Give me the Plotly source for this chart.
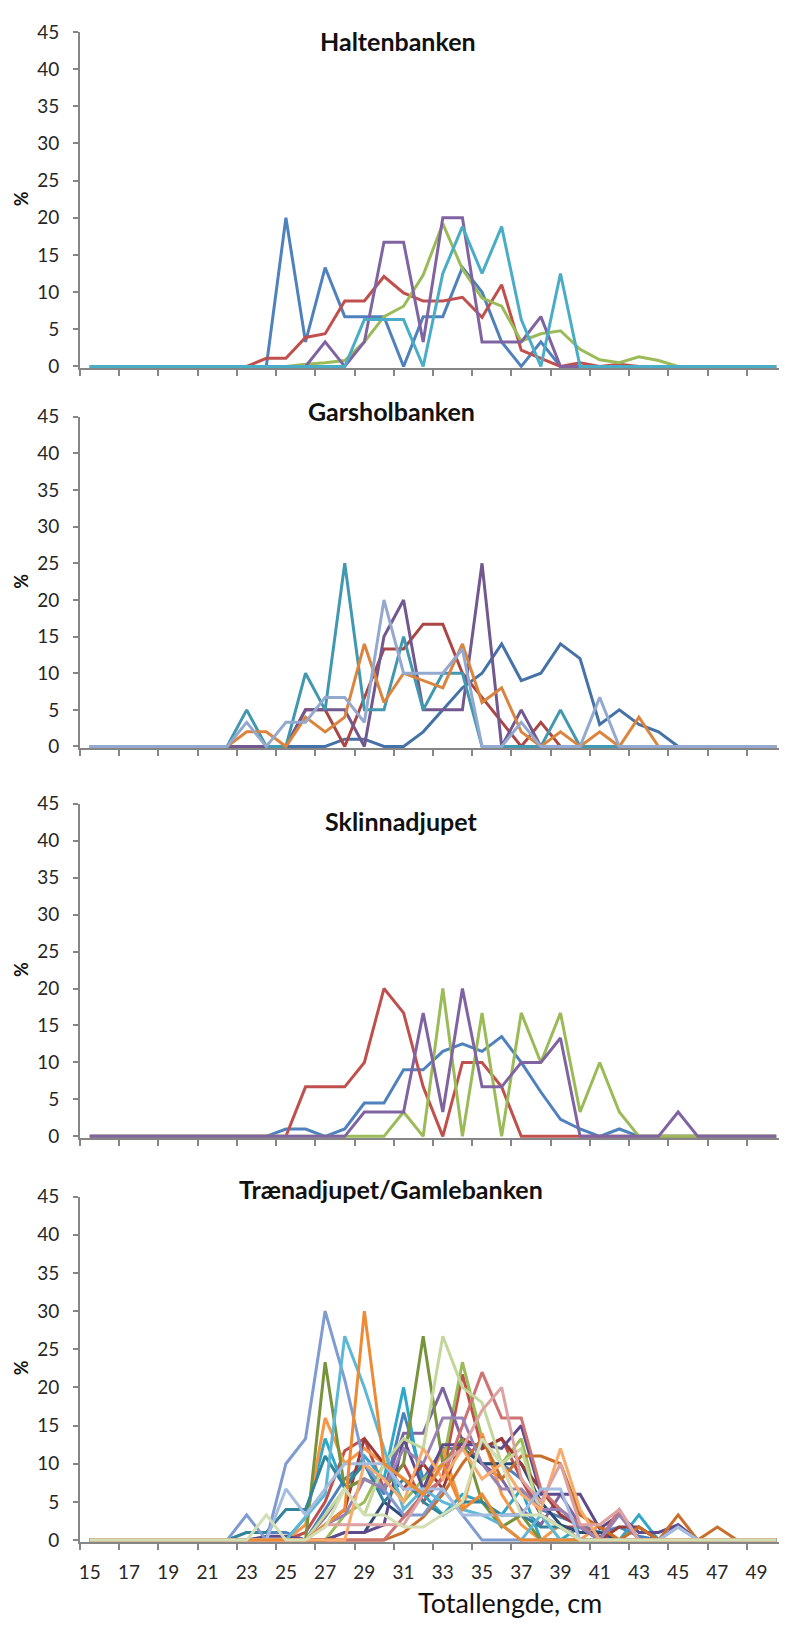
import plotly.graph_objects as go

# ---------------- data ----------------
lengths = list(range(15, 51))                      # Totallengde, cm (categories)
x_tick_values = list(range(15, 50, 2))
x_tick_labels = [str(v) for v in x_tick_values]
y_tick_values = list(range(0, 50, 5))

panel_titles = ["Haltenbanken", "Garsholbanken", "Sklinnadjupet", "Trænadjupet/Gamlebanken"]

# Panel 1: Haltenbanken              15 16 17 18 19 20 21 | 22 23 24 25 26 27 28 29 30 31 | 32 33 34 35 36 37 38 39 40 41 | 42 43 44 45 46 47 48 49 50
halten_blue   = [0, 0, 0, 0, 0, 0, 0,  0, 0, 0, 20, 3.3, 13.3, 6.7, 6.7, 6.7, 0,  6.7, 6.7, 13.3, 10, 3.3, 0, 3.3, 0, 0, 0,  0, 0, 0, 0, 0, 0, 0, 0, 0]
halten_red    = [0, 0, 0, 0, 0, 0, 0,  0, 0, 1.1, 1.1, 3.9, 4.4, 8.8, 8.8, 12.1, 9.9,  8.8, 8.8, 9.3, 6.6, 11, 2.2, 1.1, 0, 0.5, 0,  0.3, 0, 0, 0, 0, 0, 0, 0, 0]
halten_green  = [0, 0, 0, 0, 0, 0, 0,  0, 0, 0, 0, 0.3, 0.5, 0.8, 3.3, 6.7, 8.1,  12.3, 19.2, 13.1, 9.2, 8.1, 3.4, 4.4, 4.8, 2.3, 0.9,  0.5, 1.3, 0.8, 0, 0, 0, 0, 0, 0]
halten_purple = [0, 0, 0, 0, 0, 0, 0,  0, 0, 0, 0, 0, 3.3, 0, 3.3, 16.7, 16.7,  3.3, 20, 20, 3.3, 3.3, 3.3, 6.7, 0, 0, 0,  0, 0, 0, 0, 0, 0, 0, 0, 0]
halten_cyan   = [0, 0, 0, 0, 0, 0, 0,  0, 0, 0, 0, 0, 0, 0, 6.3, 6.3, 6.3,  0, 12.5, 18.8, 12.5, 18.8, 6.3, 0, 12.5, 0, 0,  0, 0, 0, 0, 0, 0, 0, 0, 0]

# Panel 2: Garsholbanken
garshol_blue      = [0, 0, 0, 0, 0, 0, 0,  0, 0, 0, 0, 0, 0, 1, 1, 0, 0,  2, 5, 8, 10, 14, 9, 10, 14, 12, 3,  5, 3, 2, 0, 0, 0, 0, 0, 0]
garshol_red       = [0, 0, 0, 0, 0, 0, 0,  0, 0, 0, 0, 5, 5, 0, 6.7, 13.3, 13.3,  16.7, 16.7, 10, 6.7, 3.3, 0, 3.3, 0, 0, 0,  0, 0, 0, 0, 0, 0, 0, 0, 0]
garshol_purple    = [0, 0, 0, 0, 0, 0, 0,  0, 0, 0, 0, 5, 5, 5, 0, 15, 20,  5, 5, 5, 25, 0, 5, 0, 0, 0, 0,  0, 0, 0, 0, 0, 0, 0, 0, 0]
garshol_teal      = [0, 0, 0, 0, 0, 0, 0,  0, 5, 0, 0, 10, 5, 25, 5, 5, 15,  5, 10, 10, 0, 0, 0, 0, 5, 0, 0,  0, 0, 0, 0, 0, 0, 0, 0, 0]
garshol_orange    = [0, 0, 0, 0, 0, 0, 0,  0, 2, 2, 0, 4, 2, 4, 14, 6, 10,  9, 8, 14, 6, 8, 2, 0, 2, 0, 2,  0, 4, 0, 0, 0, 0, 0, 0, 0]
garshol_lightblue = [0, 0, 0, 0, 0, 0, 0,  0, 3.3, 0, 3.3, 3.3, 6.7, 6.7, 3.3, 20, 10,  10, 10, 13.3, 0, 0, 3.3, 0, 0, 0, 6.7,  0, 0, 0, 0, 0, 0, 0, 0, 0]

# Panel 3: Sklinnadjupet
sklinna_blue   = [0, 0, 0, 0, 0, 0, 0,  0, 0, 0, 1, 1, 0, 1, 4.5, 4.5, 9,  9, 11.5, 12.5, 11.5, 13.5, 10, 6, 2.3, 1, 0,  1, 0, 0, 0, 0, 0, 0, 0, 0]
sklinna_red    = [0, 0, 0, 0, 0, 0, 0,  0, 0, 0, 0, 6.7, 6.7, 6.7, 10, 20, 16.7,  6.7, 0, 10, 10, 6.7, 0, 0, 0, 0, 0,  0, 0, 0, 0, 0, 0, 0, 0, 0]
sklinna_green  = [0, 0, 0, 0, 0, 0, 0,  0, 0, 0, 0, 0, 0, 0, 0, 0, 3.3,  0, 20, 0, 16.7, 0, 16.7, 10, 16.7, 3.3, 10,  3.3, 0, 0, 0, 0, 0, 0, 0, 0]
sklinna_purple = [0, 0, 0, 0, 0, 0, 0,  0, 0, 0, 0, 0, 0, 0, 3.3, 3.3, 3.3,  16.7, 3.3, 20, 6.7, 6.7, 10, 10, 13.3, 0, 0,  0, 0, 0, 3.3, 0, 0, 0, 0, 0]

# Panel 4: Trænadjupet/Gamlebanken
traena_01 = [0, 0, 0, 0, 0, 0, 0,  0, 1, 1, 1, 0, 4, 8, 10, 6, 16.7,  8, 12, 12, 10, 10, 8, 4, 3, 2, 1,  1.7, 0.5, 0, 0, 0, 0, 0, 0, 0]
traena_02 = [0, 0, 0, 0, 0, 0, 0,  0, 0, 0, 0, 1, 5, 11.7, 13.3, 6.7, 10,  5, 8.3, 21.7, 12, 13.3, 8, 3.3, 1.7, 1.7, 0,  0, 1.7, 0, 0, 0, 0, 0, 0, 0]
traena_03 = [0, 0, 0, 0, 0, 0, 0,  0, 0, 0, 0, 0, 0, 3.3, 5, 10, 5,  8, 10, 23.3, 13.3, 10, 13.3, 3.3, 1.7, 0, 0,  0, 0, 0, 0, 0, 0, 0, 0, 0]
traena_04 = [0, 0, 0, 0, 0, 0, 0,  0, 0, 0, 0, 0, 3, 6.7, 8, 6.7, 14,  14, 20, 13, 10, 8, 4, 2, 6, 2, 0.5,  0, 0, 0, 2, 0, 0, 0, 0, 0]
traena_05 = [0, 0, 0, 0, 0, 0, 0,  0, 0, 0, 0, 3, 13.3, 6.7, 11, 8, 20,  6, 3.3, 6, 5, 3.3, 6.7, 0, 0, 1.7, 0,  0, 3.3, 0, 0, 0, 0, 0, 0, 0]
traena_06 = [0, 0, 0, 0, 0, 0, 0,  0, 0, 0, 0, 2, 16, 10, 12, 10, 8,  6, 12, 4, 14, 6, 2, 0, 2, 0, 2,  0, 0, 0, 0, 0, 0, 0, 0, 0]
traena_07 = [0, 0, 0, 0, 0, 0, 0,  0, 0, 0, 0, 0, 0, 1, 1, 5, 3,  6, 10, 12, 10, 10, 10, 5, 2, 1, 1,  0, 0, 0, 0, 0, 0, 0, 0, 0]
traena_08 = [0, 0, 0, 0, 0, 0, 0,  0, 0, 0, 0, 0, 2, 4, 13.3, 10, 6.7,  10, 6.7, 13.3, 12, 13.3, 10, 6.7, 3.3, 1.7, 0,  1.7, 1.7, 0, 0, 0, 0, 0, 0, 0]
traena_09 = [0, 0, 0, 0, 0, 0, 0,  0, 0, 0, 0, 0, 23.3, 6.7, 8, 6.7, 10,  26.7, 10, 13.3, 5, 1.7, 3.3, 0, 0, 0, 0,  0, 0, 0, 0, 0, 0, 0, 0, 0]
traena_10 = [0, 0, 0, 0, 0, 0, 0,  0, 0, 0.5, 0.5, 0, 0, 1, 1, 2, 13.3,  6.7, 12.5, 12.5, 12.5, 12, 15, 6, 6, 6, 1.5,  3.3, 1, 1, 2, 0, 0, 0, 0, 0]
traena_11 = [0, 0, 0, 0, 0, 0, 0,  0, 1, 1, 4, 4, 11, 7, 10, 5, 8,  5, 3.3, 5, 5, 3.3, 3.3, 1.7, 1.7, 0, 0,  0, 0, 0, 0, 0, 0, 0, 0, 0]
traena_12 = [0, 0, 0, 0, 0, 0, 0,  0, 0, 0, 0, 0, 0, 0, 0, 0, 1,  3, 6, 10, 13.3, 8, 11, 11, 10, 3.3, 1.7,  0, 1.7, 0, 3.3, 0, 1.7, 0, 0, 0]
traena_13 = [0, 0, 0, 0, 0, 0, 0,  0, 3.3, 0, 10, 13.3, 30, 21, 10, 6.7, 3.3,  3.3, 6.7, 3.3, 0, 0, 0, 0, 0, 0, 0,  0, 0, 0, 0, 0, 0, 0, 0, 0]
traena_14 = [0, 0, 0, 0, 0, 0, 0,  0, 0, 0, 0, 0, 0, 0, 0, 0, 3,  6, 8, 15, 22, 16, 16, 6.7, 4, 2, 0,  4, 0, 0, 0, 0, 0, 0, 0, 0]
traena_15 = [0, 0, 0, 0, 0, 0, 0,  0, 0, 0, 0, 0, 3.3, 6.7, 3.3, 10, 13.3,  12, 26.7, 20, 18, 10, 12, 3.3, 0, 0, 0,  0, 0, 0, 0, 0, 0, 0, 0, 0]
traena_16 = [0, 0, 0, 0, 0, 0, 0,  0, 0, 0, 0, 0, 2, 3.3, 8, 6.7, 12,  10, 16, 16, 10, 6.7, 6.7, 4, 4, 1.7, 0,  3.3, 0, 0, 1.7, 0, 0, 0, 0, 0]
traena_17 = [0, 0, 0, 0, 0, 0, 0,  0, 0, 0, 0, 3, 6, 26.7, 20, 12, 4,  6.7, 5, 4, 3.3, 2, 0, 3.3, 0, 0, 0,  0, 0, 0, 0, 0, 0, 0, 0, 0]
traena_18 = [0, 0, 0, 0, 0, 0, 0,  0, 0, 0, 0, 0, 0, 0, 10, 8, 5,  12, 8, 12, 8, 10, 6, 4, 12, 4, 0,  0, 0, 0, 0, 0, 0, 0, 0, 0]
traena_19 = [0, 0, 0, 0, 0, 0, 0,  0, 0, 0, 0, 0, 2, 2, 2, 2, 2,  6, 10, 12, 17, 20, 8, 5, 10, 2, 2,  4, 0, 0, 0, 0, 0, 0, 0, 0]
traena_20 = [0, 0, 0, 0, 0, 0, 0,  0, 0, 0, 6.7, 3.3, 6.7, 10, 10, 10, 6.7,  6.7, 6.7, 3.3, 3.3, 3.3, 3.3, 6.7, 6.7, 0, 0,  0, 0, 0, 1.7, 0, 0, 0, 0, 0]
traena_21 = [0, 0, 0, 0, 0, 0, 0,  0, 0, 0, 0, 0, 2, 4, 30, 10, 8,  6, 10, 4, 6, 2, 0, 0, 0, 0, 0,  0, 0, 0, 0, 0, 0, 0, 0, 0]
traena_22 = [0, 0, 0, 0, 0, 0, 0,  0, 0, 3.3, 0, 0, 1.7, 6.7, 3.3, 3.3, 1.7,  1.7, 3.3, 5, 13.3, 10, 3.3, 3.3, 1.7, 0, 0,  0, 0, 0, 0, 0, 0, 0, 0, 0]

panels = [
    [(halten_blue, "#4F81BD"), (halten_red, "#C0504D"), (halten_green, "#9BBB59"),
     (halten_purple, "#8064A2"), (halten_cyan, "#4BACC6")],
    [(garshol_blue, "#4572A7"), (garshol_red, "#AA4643"), (garshol_purple, "#71588F"),
     (garshol_teal, "#4198AF"), (garshol_orange, "#DB843D"), (garshol_lightblue, "#93A9CF")],
    [(sklinna_blue, "#4F81BD"), (sklinna_red, "#C0504D"), (sklinna_green, "#9BBB59"),
     (sklinna_purple, "#8064A2")],
    [(traena_01, "#4F81BD"), (traena_02, "#C0504D"), (traena_03, "#9BBB59"), (traena_04, "#8064A2"),
     (traena_05, "#2FA7C8"), (traena_06, "#F79646"), (traena_07, "#2C4D75"), (traena_08, "#9A3B38"),
     (traena_09, "#77933C"), (traena_10, "#5F4B8B"), (traena_11, "#31849B"), (traena_12, "#C8702A"),
     (traena_13, "#7F9BD0"), (traena_14, "#CD7371"), (traena_15, "#C3D69B"), (traena_16, "#9983B5"),
     (traena_17, "#5DB8D6"), (traena_18, "#F9AB6B"), (traena_19, "#DDA3A2"), (traena_20, "#A3BCE0"),
     (traena_21, "#EE8A34"), (traena_22, "#D2DEB4")],
]

# ---------------- layout geometry (page pixels) ----------------
PAGE_W, PAGE_H = 787, 1631
OFF = 8                      # default body margin of the html page
W, H = PAGE_W - OFF, PAGE_H - OFF
AX_LEFT, AX_RIGHT = 80, 786   # page x of the plot area
ML = AX_LEFT - OFF
MR = PAGE_W - AX_RIGHT
PW = W - ML - MR
panel_px = [(20, 359), (410, 744), (802, 1139), (1200, 1548)]   # page y of 45 and of 0
title_px = [(398, 29), (391, 404), (401, 819), (391, 1192)]
YMIN = -0.25


def py(page_y):
    return 1 - (page_y - OFF) / H


def px(page_x):
    return (page_x - AX_LEFT) / PW


FONT = "Lato, 'Open Sans', sans-serif"
AXIS_COLOR = "#868686"
TEXT_COLOR = "#262626"

fig = go.Figure()
layout = dict(
    width=W, height=H,
    margin=dict(l=ML, r=MR, t=0, b=0, pad=0),
    paper_bgcolor="white", plot_bgcolor="white",
    showlegend=False,
    font=dict(family=FONT, color=TEXT_COLOR),
)

minor_ticks = [v - 0.5 for v in range(15, 52, 2)]
annotations = []

for i, series in enumerate(panels):
    n = i + 1
    xa = "x" if n == 1 else f"x{n}"
    ya = "y" if n == 1 else f"y{n}"
    for vals, col in series:
        fig.add_trace(go.Scatter(
            x=lengths, y=vals, mode="lines",
            line=dict(color=col, width=3),
            xaxis=xa, yaxis=ya, hoverinfo="skip", showlegend=False,
        ))
    top, y0 = panel_px[i]
    ppu = (y0 - top) / 45.0
    bottom = y0 + (-YMIN) * ppu
    dom = [py(bottom), py(top)]
    layout["xaxis" if n == 1 else f"xaxis{n}"] = dict(
        domain=[0, 1], range=[14.5, 50.5], anchor=ya,
        tickmode="array", tickvals=x_tick_values, ticktext=x_tick_labels,
        showticklabels=(n == 4), ticks="",
        tickfont=dict(family=FONT, size=19, color=TEXT_COLOR),
        ticklabelstandoff=12,
        showline=True, linecolor=AXIS_COLOR, linewidth=2,
        showgrid=False, zeroline=False, layer="below traces",
        minor=dict(tickmode="array", tickvals=minor_ticks, ticks="outside",
                   ticklen=6, tickwidth=1.5, tickcolor=AXIS_COLOR, showgrid=False),
        fixedrange=True,
    )
    layout["yaxis" if n == 1 else f"yaxis{n}"] = dict(
        domain=dom, range=[YMIN, 45], anchor=xa,
        tickmode="array", tickvals=y_tick_values,
        ticks="outside", ticklen=5, tickwidth=1.5, tickcolor=AXIS_COLOR,
        tickfont=dict(family=FONT, size=19, color=TEXT_COLOR),
        ticklabelstandoff=10,
        showline=True, linecolor=AXIS_COLOR, linewidth=2,
        showgrid=False, zeroline=False, layer="below traces",
        fixedrange=True,
    )
    tx, ty = title_px[i]
    annotations.append(dict(
        text=f"<b>{panel_titles[i]}</b>", xref="paper", yref="paper",
        x=px(tx), y=py(ty),
        xanchor="center", yanchor="middle", showarrow=False,
        font=dict(family=FONT, size=25, color="#111111"),
    ))
    annotations.append(dict(
        text="<b>%</b>", xref="paper", yref="paper",
        x=px(21), y=py((top + y0) / 2),
        xanchor="center", yanchor="middle", showarrow=False, textangle=-90,
        font=dict(family=FONT, size=18, color="#111111"),
    ))

annotations.append(dict(
    text="Totallengde, cm", xref="paper", yref="paper",
    x=px(510), y=py(1611),
    xanchor="center", yanchor="middle", showarrow=False,
    font=dict(family=FONT, size=27, color="#111111"),
))
layout["annotations"] = annotations

fig.update_layout(**layout)
fig.write_html("out.html")
